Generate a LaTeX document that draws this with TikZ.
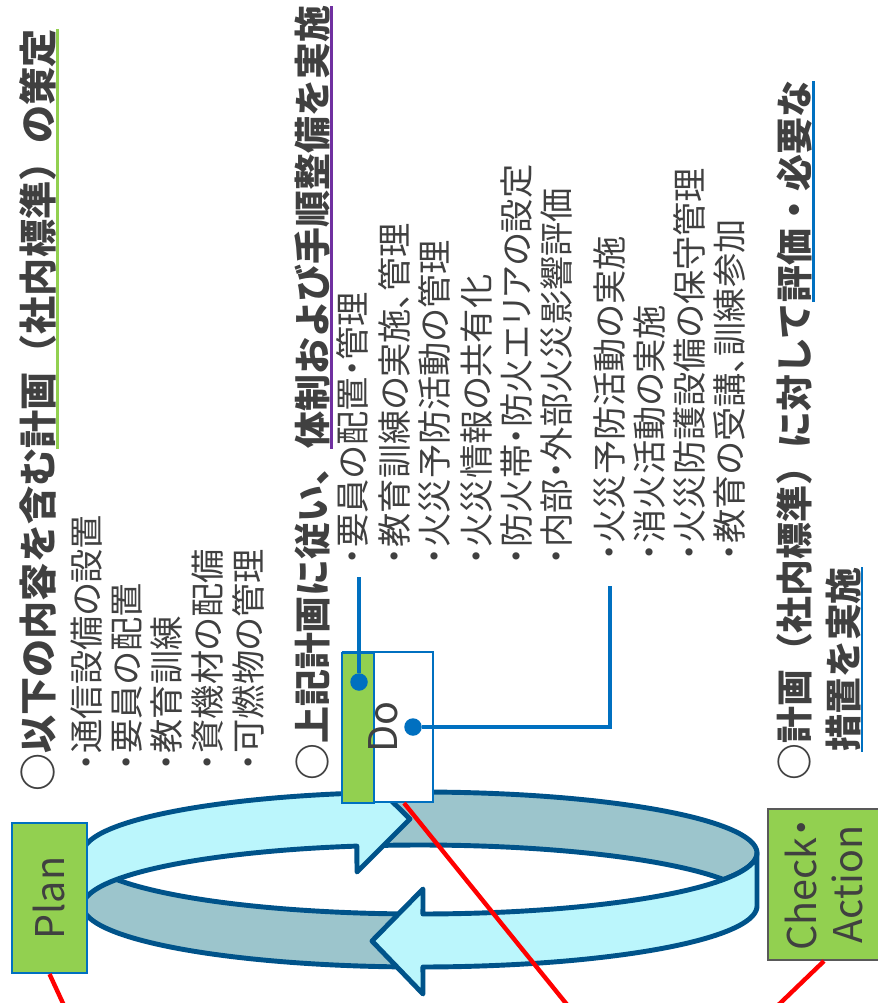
\documentclass[tikz,border=0pt]{standalone}
\usepackage{fontspec}
\setmainfont{Noto Sans CJK JP}
\newfontfamily\itemfont{Noto Sans CJK JP}[RawFeature=+palt]
\usetikzlibrary{calc}

\definecolor{ink}{HTML}{404040}
\definecolor{leaf}{HTML}{92D050}
\definecolor{boxblue}{HTML}{0070C0}
\definecolor{rim}{HTML}{00538A}
\definecolor{ice}{HTML}{BBF6FC}
\definecolor{inner}{HTML}{9CC5CC}
\definecolor{plum}{HTML}{7030A0}
\definecolor{frame}{HTML}{595959}

% coloured rule under part of a heading
\newcommand\lineunder[2]{\setbox0=\hbox{#2}\rlap{\color{#1}\rule[\dimexpr-\dp0-1.6pt\relax]{\wd0}{1.4pt}}\box0}

\begin{document}
\begin{tikzpicture}[
  x=0.02cm, y=-0.02cm,
  txt/.style={text=ink, inner sep=0pt, rotate=90, anchor=base west},
  head/.style={txt, font=\bfseries\fontsize{21}{25}\selectfont},
  item/.style={txt, font=\itemfont\fontsize{19.5}{23}\selectfont},
  phase/.style={rectangle, draw=boxblue, line width=1.2pt, fill=leaf, rotate=90, text=ink,
    font=\itemfont\fontsize{22.5}{26}\selectfont, align=center, inner sep=0pt},
  band/.style={draw=rim, line width=2.8pt, line join=round},
  link/.style={draw=boxblue, line width=2.5pt},
  joint/.style={circle, fill=boxblue, inner sep=0pt, minimum size=0.35cm},
  trace/.style={draw=red, line width=2.5pt}
]
\useasboundingbox (0,0) rectangle (877,1003);

% cycle ring: far side, near side, each ending in an arrow head
\filldraw[band, fill=inner]
  plot[domain=259.2:360, samples=60] ({420+337*cos(\x)}, {853+61*sin(\x)})
  -- plot[domain=0:25.7, samples=12] ({420+337*cos(\x)}, {853+61*sin(\x)})
  -- plot[domain=334.3:259.2, samples=60] ({420+337*cos(\x)}, {906+61*sin(\x)})
  -- cycle;
\filldraw[band, fill=inner]
  plot[domain=89.5:180, samples=60] ({420+337*cos(\x)}, {853+61*sin(\x)})
  -- plot[domain=180:89.5, samples=60] ({420+337*cos(\x)}, {906+61*sin(\x)})
  -- cycle;
\filldraw[band, fill=ice]
  plot[domain=180:259.2, samples=60] ({420+337*cos(\x)}, {853+61*sin(\x)})
  -- (357,767) -- (410,819) -- (357,872)
  -- plot[domain=259.2:180, samples=60] ({420+337*cos(\x)}, {906+61*sin(\x)})
  -- cycle;
\filldraw[band, fill=ice]
  plot[domain=89.5:0, samples=60] ({420+337*cos(\x)}, {853+61*sin(\x)})
  -- plot[domain=0:89.5, samples=60] ({420+337*cos(\x)}, {906+61*sin(\x)})
  -- (423,994) -- (372,941) -- (423,889) -- cycle;

\node[phase, minimum width=3cm, minimum height=1.5cm] (plan) at (49.5,898) {Plan};
\node[phase, fill=white, minimum width=3cm, minimum height=1.8cm] (do) at (388,727) {};
\filldraw[draw=boxblue, line width=1.2pt, fill=leaf] (do.north west) rectangle ++(32,-150);
\node[txt, anchor=center, font=\itemfont\fontsize{22.5}{26}\selectfont] (dolabel) at (383,727) {Do};
\node[phase, draw=frame, minimum width=3.02cm, minimum height=2.24cm] (check) at (824,884.5) {Check・\\Action};

\node[head, font=\bfseries\fontsize{21.7}{25}\selectfont] (hplan) at (52,792) {○以下の内容を含む\lineunder{leaf}{計画（社内標準）の策定}};
\node[item] (pi1) at (99,771) {・通信設備の設置};
\node[item] (pi2) at (139,771) {・要員の配置};
\node[item] (pi3) at (179.5,771) {・教育訓練};
\node[item] (pi4) at (220,771) {・資機材の配備};
\node[item] (pi5) at (261,771) {・可燃物の管理};

\node[head] (hdo) at (326,781) {○上記計画に従い、\lineunder{plum}{体制および手順整備を実施}};
\node[item] (di1) at (365,565) {・要員の配置・管理};
\node[item] (di2) at (407,565) {・教育訓練の実施、管理};
\node[item] (di3) at (447,565) {・火災予防活動の管理};
\node[item] (di4) at (489,565) {・火災情報の共有化};
\node[item] (di5) at (529,565) {・防火帯・防火エリアの設定};
\node[item] (di6) at (569,565) {・内部・外部火災影響評価};
\node[item] (ci1) at (622,561) {・火災予防活動の実施};
\node[item] (ci2) at (662,561) {・消火活動の実施};
\node[item] (ci3) at (702,561) {・火災防護設備の保守管理};
\node[item] (ci4) at (742,561) {・教育の受講、訓練参加};

\node[head] (hcheck) at (808,781) {○計画（社内標準）に対して\lineunder{boxblue}{評価・必要な}};
\node[head] (hcheckb) at (857,752) {\lineunder{boxblue}{措置を実施}};

\node[joint] (pinA) at (359,682) {};
\coordinate (tipA) at (359,577);
\draw[link] (pinA) -- (tipA);
\node[joint] (pinB) at (413,727) {};
\coordinate (tipB) at (610,586);
\draw[link] (pinB) -| (tipB);

\coordinate (endP) at (67,1012);
\coordinate (endD) at (573,1012);
\coordinate (endC) at (771,1012);
\draw[trace] (plan.west) -- (endP);
\draw[trace] ($(do.west)+(16,0)$) -- (endD);
\draw[trace] (check.west) -- (endC);
\end{tikzpicture}
\end{document}
